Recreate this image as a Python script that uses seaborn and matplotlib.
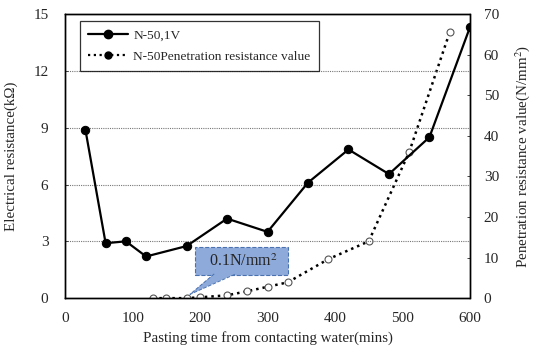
import numpy as np
import pandas as pd
import matplotlib
matplotlib.use("Agg")
import matplotlib.pyplot as plt
import seaborn as sns
from matplotlib.lines import Line2D
from matplotlib.patches import Polygon

sns.set_style("white")
plt.rcParams['font.family'] = ['Liberation Serif', 'DejaVu Serif']
plt.rcParams['mathtext.fontset'] = 'stix'

res_time = [30, 60, 90, 120, 180, 240, 300, 360, 420, 480, 540, 600]
res_vals = [8.9, 2.9, 3.0, 2.2, 2.75, 4.2, 3.5, 6.1, 7.85, 6.55, 8.5, 14.3]

pen_time = [130, 150, 180, 200, 240, 270, 300, 330, 390, 450, 510, 570]
pen_vals = [0.0, 0.0, 0.0, 0.2, 0.7, 1.7, 2.8, 3.9, 9.6, 14.0, 36.0, 65.5]

x_ticks = [0, 100, 200, 300, 400, 500, 600]
left_ticks = [0, 3, 6, 9, 12, 15]
right_ticks = [0, 10, 20, 30, 40, 50, 60, 70]

label_res = "N-50,1V"
label_pen = "N-50Penetration resistance value"
annot_text = "  0.1N/mm$^2$  "

df_res = pd.DataFrame({"t": res_time, "v": res_vals})
df_pen = pd.DataFrame({"t": pen_time, "v": pen_vals})

fig = plt.figure(figsize=(5.34, 3.52), dpi=100)
ax = fig.add_axes([0.122, 0.153, 0.758, 0.807])
ax2 = ax.twinx()

sns.lineplot(data=df_pen, x="t", y="v", ax=ax2, color="black", linestyle=(0, (1, 1.6)),
             linewidth=1.8, marker="o", markersize=5, markerfacecolor="white",
             markeredgecolor="#555555", markeredgewidth=0.8)
sns.lineplot(data=df_res, x="t", y="v", ax=ax, color="black", linewidth=1.6,
             marker="o", markersize=6, markerfacecolor="black", markeredgecolor="black")
ax.set_zorder(ax2.get_zorder() + 1)
ax.patch.set_visible(False)

ax.set_xlim(0, 600)
ax.set_ylim(0, 15)
ax2.set_ylim(0, 70)
ax.set_xticks(x_ticks)
ax.set_yticks(left_ticks)
ax2.set_yticks(right_ticks)

for y in left_ticks[1:-1]:
    ax.axhline(y, color="#777777", linestyle=(0, (1, 1)), linewidth=0.8, zorder=0)

fs = 10.8
ax.set_xlabel("Pasting time from contacting water(mins)", fontsize=fs, labelpad=4)
ax.set_ylabel("Electrical resistance(k\u03a9)", fontsize=fs, labelpad=11)
ax2.set_ylabel("Penetration resistance value(N/mm$^2$)", fontsize=fs, labelpad=10)
ax.tick_params(axis="both", labelsize=11, direction="in", length=2, width=0.6, pad=10)
ax2.tick_params(axis="y", labelsize=11, direction="in", length=2, width=0.6, pad=10)
ax.tick_params(axis="y", pad=12)

for a in (ax, ax2):
    for s in a.spines.values():
        s.set_linestyle((0, (1, 1)))
        s.set_linewidth(1.0)
        s.set_color("black")

handles = [
    Line2D([], [], color="black", linewidth=1.6, marker="o", markersize=6),
    Line2D([], [], color="black", linewidth=1.6, linestyle=(0, (1, 1.6)), marker="o", markersize=5),
]
leg = ax.legend(handles, [label_res, label_pen], loc="upper left", bbox_to_anchor=(0.037, 0.975),
                borderaxespad=0, fontsize=9.6, frameon=True, fancybox=False, edgecolor="black",
                handlelength=3.0, handletextpad=0.4, borderpad=0.6, labelspacing=0.65)
leg.get_frame().set_linewidth(0.9)
if ax2.get_legend() is not None:
    ax2.get_legend().remove()

callout_fc = "#8eaadb"
ax.text(261, 1.95, annot_text, ha="center", va="center", fontsize=11.5, zorder=5,
        bbox=dict(boxstyle="square,pad=0.35", fc=callout_fc, ec="#4a72b0", ls="--", lw=0.8))
tail = Polygon([(221, 1.30), (253, 1.30), (185, 0.2)], closed=True, fc=callout_fc,
               ec="none", zorder=6)
ax.add_patch(tail)
ax.plot([221, 185, 253], [1.28, 0.2, 1.28], color="#4a72b0", linestyle="--", linewidth=0.7, zorder=6)

fig.savefig("out.png", dpi=100)
